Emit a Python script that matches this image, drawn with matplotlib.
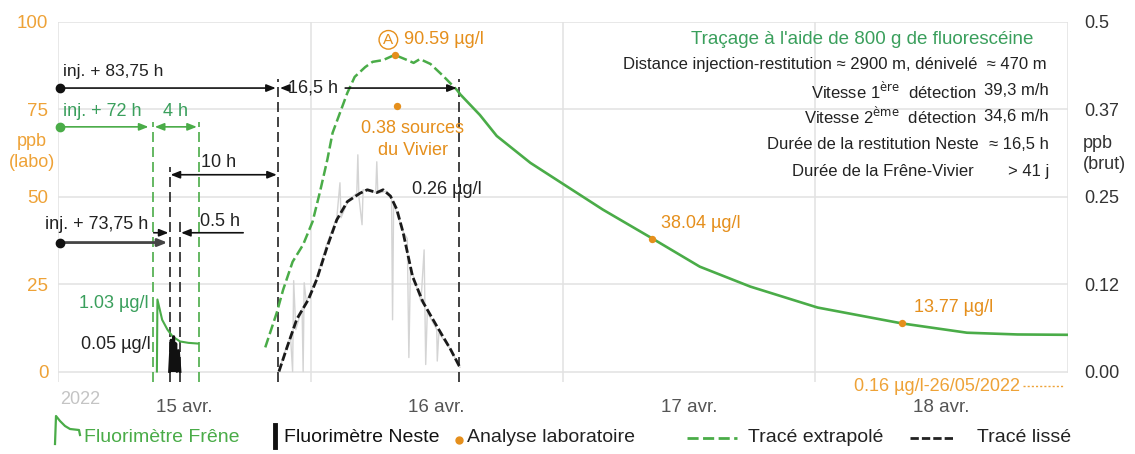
import matplotlib
matplotlib.use("Agg")
import matplotlib.pyplot as plt
from matplotlib.lines import Line2D

W, H = 1135, 454

# ---------------------------------------------------------------- data
# time axis: hours from 15 April 2022, 00:00
day_ticks = [12, 36, 60, 84]
day_labels = ["15 avr.", "16 avr.", "17 avr.", "18 avr."]
left_ticks = [0, 25, 50, 75, 100]
left_labels = ["0", "25", "50", "75", "100"]
right_ticks = [0.0, 0.125, 0.25, 0.375, 0.5]
right_labels = ["0.00", "0.12", "0.25", "0.37", "0.5"]

# Frêne fluorimeter (µg/l), drawn x20 on the lab axis
frene_h = [9.4, 9.45, 9.9, 10.4, 10.9, 11.6, 12.4, 13.3]
frene_ugl = [0.0, 1.03, 0.74, 0.60, 0.50, 0.43, 0.41, 0.40]
FRENE_SCALE = 20

# Neste fluorimeter, first short passage (ppb brut)
neste1_h = [10.6, 10.75, 10.9, 11.0, 11.1, 11.2, 11.3, 11.45, 11.6]
neste1_ppb = [0.0, 0.045, 0.02, 0.05, 0.015, 0.04, 0.0, 0.03, 0.0]

# Neste fluorimeter, raw signal of the main passage (ppb brut)
neste_raw_h = [21.0, 21.6, 22.1, 22.3, 22.4, 22.6, 23.2, 23.3, 23.4, 23.6,
               24.5, 25.5, 26.5, 26.8, 26.9, 27.6, 28.4, 28.5, 28.6, 28.9,
               29.0, 30.2, 30.3, 30.4, 31.2, 31.7, 31.8, 31.9, 32.8, 33.2,
               33.35, 33.5, 34.5, 34.8, 34.95, 35.1, 36.0, 36.05, 36.2, 37.3, 38.2]
neste_raw_ppb = [0.0, 0.03, 0.05, 0.0, 0.13, 0.06, 0.09, 0.0, 0.127, 0.10,
                 0.13, 0.18, 0.22, 0.27, 0.22, 0.245, 0.255, 0.31, 0.25, 0.21,
                 0.26, 0.256, 0.30, 0.255, 0.258, 0.25, 0.074, 0.24, 0.20, 0.19,
                 0.02, 0.15, 0.10, 0.174, 0.01, 0.085, 0.06, 0.015, 0.055, 0.032, 0.006]

# smoothed Neste curve (ppb brut)
neste_smooth_h = [21.0, 21.8, 22.7, 23.8, 24.6, 25.6, 26.5, 27.5, 28.7, 29.4,
                  30.3, 30.9, 31.6, 32.2, 32.8, 33.7, 34.7, 36.0, 37.3, 38.2]
neste_smooth_ppb = [0.0, 0.036, 0.075, 0.103, 0.132, 0.179, 0.217, 0.243, 0.255, 0.26,
                    0.256, 0.26, 0.251, 0.232, 0.199, 0.136, 0.099, 0.065, 0.032, 0.006]

# Frêne-Vivier restitution (µg/l): extrapolated rise, then measured recession
extrap_h = [19.7, 20.8, 21.4, 22.3, 23.3, 24.2, 24.9, 25.6, 26.1, 26.8, 27.5, 28.2,
            29.2, 29.9, 30.9, 32.0, 33.2, 33.8, 34.4, 35.4, 36.6, 37.9, 38.2]
extrap_ugl = [6.9, 16.9, 23.4, 31.4, 36.3, 42.9, 51.4, 60.6, 68.3, 74.0, 79.7, 84.3,
              87.1, 88.6, 89.1, 90.59, 89.1, 88.3, 89.4, 88.0, 84.6, 80.6, 79.4]
recess_h = [38.2, 40.1, 41.7, 44.9, 48.4, 51.8, 56.5, 61.0, 65.8, 72.2, 80.2, 86.4, 91.2, 96.0]
recess_ugl = [79.4, 73.4, 67.4, 59.7, 52.9, 46.3, 38.04, 30.0, 24.3, 18.3, 13.77, 11.1, 10.6, 10.5]

# laboratory analyses
lab_h = [32.0, 56.5, 80.2]
lab_ugl = [90.59, 38.04, 13.77]
lab_labels = ["90.59 µg/l", "38.04 µg/l", "13.77 µg/l"]
vivier_h = 32.2
vivier_ppb = 0.38

# event markers (hours) and their top ends (lab axis units)
green_marks_h = [9.0, 13.4]
green_marks_top = [71.4, 71.4]
black_marks_h = [10.6, 11.6, 20.9, 38.1]
black_marks_top = [58.6, 43.7, 83.7, 83.7]

# ---------------------------------------------------------------- style
ORANGE = "#eea237"
LAB = "#e58f1c"
GREEN = "#4aac48"
GREEN_TXT = "#3a9f5c"
GRID = "#e2e2e2"
plt.rcParams["font.family"] = ["Liberation Sans", "DejaVu Sans"]

fig = plt.figure(figsize=(W / 100, H / 100), dpi=100)
ax = fig.add_axes([58 / W, 1 - 382 / H, 1010 / W, 360 / H])
ax.set_xlim(0, 96)
ax.set_ylim(-3, 100)
ax2 = ax.twinx()
ax2.set_ylim(-0.015, 0.5)
for a in (ax, ax2):
    for s in a.spines.values():
        s.set_visible(False)

# grid
for y in left_ticks:
    ax.axhline(y, color=GRID, lw=1.1, zorder=0)
for x in [0, 24, 48, 72]:
    ax.axvline(x, color=GRID, lw=1.1, zorder=0)
ax.plot([96, 96], [0, 100], color=GRID, lw=1.1, zorder=0)

# ticks
ax.set_xticks(day_ticks, day_labels)
ax.tick_params(axis="x", length=0, pad=12, labelsize=13.5, labelcolor="#555555")
ax.set_yticks(left_ticks, left_labels)
ax.tick_params(axis="y", length=0, pad=7, labelsize=13.5, labelcolor=ORANGE)
ax2.set_yticks(right_ticks, right_labels)
ax2.tick_params(axis="y", length=0, pad=12, labelsize=13, labelcolor="#333333")
fig.text(32 / W, 1 - 152 / H, "ppb\n(labo)", ha="center", va="center",
         fontsize=13, color=ORANGE, linespacing=1.3)
fig.text(1083 / W, 1 - 154 / H, "ppb\n(brut)", ha="left", va="center",
         fontsize=13, color="#333333", linespacing=1.3)
fig.text(60 / W, 1 - 399 / H, "2022", ha="left", va="center", fontsize=13, color="#c4c4c4")

# event markers
for h, top in zip(green_marks_h, green_marks_top):
    ax.plot([h, h], [-3, top], color=GREEN, lw=1.2, ls=(0, (6, 3)), zorder=2)
for h, top in zip(black_marks_h, black_marks_top):
    ax.plot([h, h], [-3, top], color="#222222", lw=1.2, ls=(0, (6, 3)), zorder=2)

# curves
ax.plot(extrap_h, extrap_ugl, color=GREEN, lw=1.8, ls=(0, (4, 1.6)), zorder=3)
ax.plot(recess_h, recess_ugl, color=GREEN, lw=1.9, zorder=3)
ax.plot(frene_h, [v * FRENE_SCALE for v in frene_ugl], color=GREEN, lw=1.5, zorder=3)

ax2.plot(neste_raw_h, neste_raw_ppb, color="#d4d4d4", lw=1.0, zorder=1)
ax2.fill_between(neste1_h, 0, neste1_ppb, color="#111111", lw=0, zorder=2)
ax2.plot(neste1_h, neste1_ppb, color="#111111", lw=2.0, zorder=2)
ax2.plot(neste_smooth_h, neste_smooth_ppb, color="#1a1a1a", lw=2.0, ls=(0, (3, 1.1)), zorder=3)

ax.scatter(lab_h, lab_ugl, s=28, color=LAB, zorder=5, lw=0)
ax2.scatter([vivier_h], [vivier_ppb], s=28, color=LAB, zorder=5, lw=0)

# value labels
ax.text(lab_h[0] - 0.6, 94.9, "A", ha="center", va="center", fontsize=11, color=LAB,
        bbox=dict(boxstyle="circle,pad=0.15", fc="none", ec=LAB, lw=1.0))
ax.text(lab_h[0] + 0.9, 94.9, lab_labels[0], ha="left", va="center", fontsize=13, color=LAB)
ax.text(lab_h[1] + 0.8, 42.3, lab_labels[1], ha="left", va="center", fontsize=13, color=LAB)
ax.text(lab_h[2] + 1.2, 18.3, lab_labels[2], ha="left", va="center", fontsize=13, color=LAB)
ax2.text(vivier_h + 1.5, 0.332, "%.2f sources\ndu Vivier" % vivier_ppb, ha="center",
         va="center", fontsize=13, color=LAB, linespacing=1.35)
ax2.text(33.6, max(neste_smooth_ppb), "%.2f µg/l" % max(neste_smooth_ppb), ha="left",
         va="center", fontsize=13, color="#222222")
ax.text(8.6, max(frene_ugl) * FRENE_SCALE - 1.0, "%.2f µg/l" % max(frene_ugl), ha="right",
        va="center", fontsize=13, color=GREEN_TXT)
ax.text(8.8, 7.7, "%.2f µg/l" % max(neste1_ppb), ha="right", va="center", fontsize=13,
        color="#222222")
ax.text(91.4, -4.2, "0.16 µg/l-26/05/2022", ha="right", va="center", fontsize=13,
        color=ORANGE, clip_on=False)
ax.plot([91.7, 95.6], [-4.2, -4.2], color=ORANGE, lw=1.0, ls=(0, (1.5, 1.5)), clip_on=False)


# dimension arrows
def arrow(x0, x1, y, color="#111111", lw=1.2):
    ax.annotate("", xy=(x1, y), xytext=(x0, y), annotation_clip=False,
                arrowprops=dict(arrowstyle="-|>,head_length=0.55,head_width=0.22",
                                color=color, lw=lw, shrinkA=0, shrinkB=0))


def dbl_arrow(x0, x1, y, color="#111111", lw=1.2):
    ax.annotate("", xy=(x1, y), xytext=(x0, y), annotation_clip=False,
                arrowprops=dict(arrowstyle="<|-|>,head_length=0.55,head_width=0.22",
                                color=color, lw=lw, shrinkA=0, shrinkB=0))


# injection + 83,75 h and 16,5 h restitution
ax.plot([0.2], [81.1], "o", color="#111111", ms=6, clip_on=False, zorder=6)
arrow(0.2, 20.7, 81.1)
arrow(22.0, 21.1, 81.1)
ax.text(21.9, 81.1, "16,5 h", ha="left", va="center", fontsize=13, color="#222222")
arrow(27.3, 37.9, 81.1)
ax.text(0.5, 85.9, "inj. + 83,75 h", ha="left", va="center", fontsize=12.5, color="#222222")

# injection + 72 h and 4 h at Frêne
ax.plot([0.2], [70.0], "o", color=GREEN, ms=6, clip_on=False, zorder=6)
arrow(0.2, 8.6, 70.0, color=GREEN)
dbl_arrow(9.2, 13.2, 70.0, color=GREEN)
ax.text(0.5, 74.4, "inj. + 72 h", ha="left", va="center", fontsize=13, color=GREEN_TXT)
ax.text(11.2, 74.4, "4 h", ha="center", va="center", fontsize=13, color=GREEN_TXT)

# 10 h between the two Neste passages
dbl_arrow(10.7, 20.8, 56.3)
ax.text(13.6, 59.8, "10 h", ha="left", va="center", fontsize=13, color="#222222")

# injection + 73,75 h and 0.5 h first Neste passage
ax.plot([0.2], [36.9], "o", color="#111111", ms=6, clip_on=False, zorder=6)
arrow(0.2, 10.4, 36.9, color="#444444", lw=2.0)
ax.text(-1.2, 42.2, "inj. + 73,75 h", ha="left", va="center", fontsize=13, color="#222222",
        clip_on=False)
arrow(9.1, 10.5, 39.7)
arrow(17.6, 11.7, 39.7)
ax.text(13.5, 43.0, "0.5 h", ha="left", va="center", fontsize=13, color="#222222")

# tracer test summary
INFO = 12
ax.text(76.4, 94.9, "Traçage à l'aide de 800 g de fluorescéine", ha="center", va="center",
        fontsize=13.5, color=GREEN_TXT)
ax.text(94.0, 87.7, "Distance injection-restitution ≈ 2900 m, dénivelé  ≈ 470 m", ha="right",
        va="center", fontsize=INFO, color="#222222")
info_rows = [
    (80.3, r"Vitesse 1$^{\rm ère}$  détection", "39,3 m/h", 87.3),
    (72.9, r"Vitesse 2$^{\rm ème}$  détection", "34,6 m/h", 87.3),
    (64.9, "Durée de la restitution Neste", "≈ 16,5 h", 87.5),
    (57.1, "Durée de la Frêne-Vivier", "> 41 j", 87.0),
]
for y, lab, val, xr in info_rows:
    ax.text(xr, y, lab, ha="right", va="center", fontsize=INFO, color="#222222")
    ax.text(94.2, y, val, ha="right", va="center", fontsize=INFO, color="#222222")


# ---------------------------------------------------------------- legend
def fp(x, y):
    return x / W, 1 - y / H


def fig_line(xs, ys, **kw):
    pts = [fp(x, y) for x, y in zip(xs, ys)]
    fig.add_artist(Line2D([p[0] for p in pts], [p[1] for p in pts],
                          transform=fig.transFigure, **kw))


LY = 438
LFS = 14
fig_line([55, 56, 60, 65, 70, 79, 80], [444, 416, 421, 426, 429, 430, 435], color=GREEN, lw=1.6)
fig.text(*fp(84, LY), "Fluorimètre Frêne", ha="left", va="center", fontsize=LFS, color=GREEN)
fig_line([275, 275], [425, 447], color="#111111", lw=3.5)
fig.text(*fp(284, LY), "Fluorimètre Neste", ha="left", va="center", fontsize=LFS, color="#111111")
fig_line([459], [440], color=LAB, marker="o", ms=5, lw=0)
fig.text(*fp(467, LY), "Analyse laboratoire", ha="left", va="center", fontsize=LFS, color="#222222")
fig_line([687, 737], [LY, LY], color=GREEN, lw=2, ls=(0, (4, 1.6)))
fig.text(*fp(748, LY), "Tracé extrapolé", ha="left", va="center", fontsize=LFS, color="#222222")
fig_line([910, 953], [LY, LY], color="#222222", lw=2, ls=(0, (3, 1.1)))
fig.text(*fp(977, LY), "Tracé lissé", ha="left", va="center", fontsize=LFS, color="#222222")

fig.savefig("out.png", dpi=100)
